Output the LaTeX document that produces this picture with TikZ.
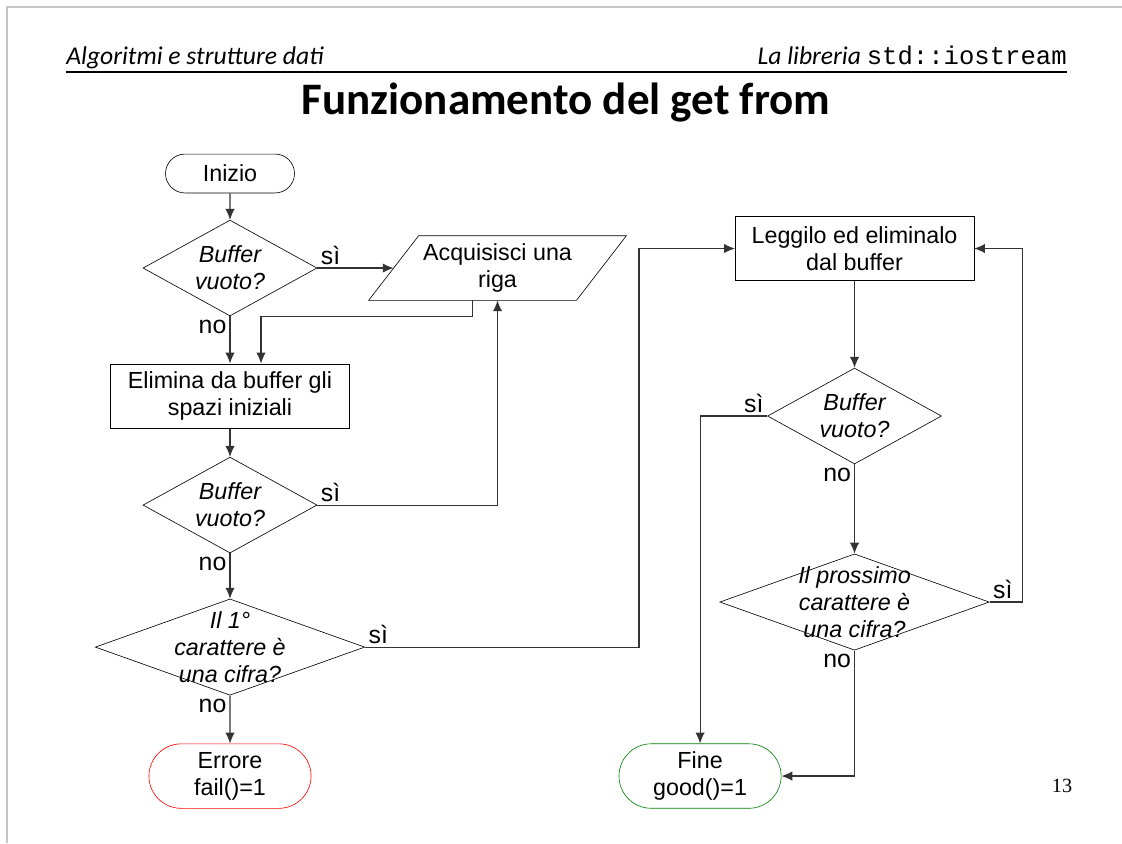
\documentclass[tikz,border=0pt]{standalone}
\usepackage{fontspec}
\setmainfont{Liberation Sans}
\newfontfamily\slidefont{Carlito}
\newfontfamily\codefont{Liberation Mono}
\newfontfamily\pagefont{Liberation Serif}
\usetikzlibrary{positioning, shapes.geometric, shapes.misc, arrows.meta}

\begin{document}
\begin{tikzpicture}[
    every node/.style={align=center, font=\fontsize{15}{17.3}\selectfont},
    terminal/.style={rounded rectangle, draw=black, minimum width=3.67cm, minimum height=1.46cm, inner sep=0pt},
    block/.style={rectangle, draw=black, minimum width=5.4cm, minimum height=1.46cm, inner sep=0pt},
    io/.style={rectangle, minimum width=4.69cm, minimum height=1.45cm, inner sep=0pt},
    decision/.style={diamond, draw=black, minimum width=3.94cm, minimum height=2.17cm, inner sep=0pt},
    wide/.style={decision, minimum width=6.1cm, minimum height=2.18cm},
    qtext/.style={font=\fontsize{15}{17.3}\selectfont\itshape},
    yeslab/.style={anchor=south west, inner sep=2pt, font=\fontsize{16}{19}\selectfont},
    nolab/.style={anchor=north east, inner sep=2pt, font=\fontsize{16}{19}\selectfont},
    header/.style={font=\slidefont\itshape\fontsize{16.5}{19}\selectfont, inner sep=0pt},
    arrow/.style={->, >={Latex[length=7pt,width=6pt]}, draw=black!80, line width=0.7pt}
]
    \useasboundingbox (0,0) rectangle (25.4,-19.085);
    \draw[gray!45, line width=0.9pt] (0.158,-19.085) -- (0.158,-0.158) -- (25.4,-0.158);

    % Header and title
    \node[header, anchor=base west] (course) at (1.494,-1.471) {Algoritmi e strutture dati};
    \node[header, anchor=base east] (topic) at (24.155,-1.471) {La libreria {\upshape\codefont std::iostream}};
    \draw[line width=0.8pt] (1.494,-1.63) -- (24.155,-1.63);
    \node[font=\slidefont\bfseries\fontsize{29}{33}\selectfont, anchor=base] (title) at (12.813,-2.60) {Funzionamento del get from};

    % Nodes - left column
    \node[terminal, minimum width=2.92cm, minimum height=0.88cm] (start) at (5.207,-3.928) {Inizio};
    \node[decision, node distance=2.14cm, below of=start, label={[qtext]center:Buffer\\vuoto?}] (empty1) {};
    \node[io, node distance=6.056cm, right of=empty1] (getline) {Acquisisci una\\riga};
    \draw ([xshift=-0.566cm]getline.south west) -- ([xshift=0.566cm]getline.north west)
        -- ([xshift=0.566cm]getline.north east) -- ([xshift=-0.566cm]getline.south east) -- cycle;
    \node[block, node distance=2.898cm, below of=empty1] (skipws) {Elimina da buffer gli\\spazi iniziali};
    \node[decision, node distance=2.468cm, below of=skipws, label={[qtext]center:Buffer\\vuoto?}] (empty2) {};
    \node[wide, node distance=3.215cm, below of=empty2, label={[qtext]center:Il 1°\\carattere è\\una cifra?}] (digit1) {};
    \node[terminal, draw=red, node distance=2.92cm, below of=digit1] (fail) {Errore\\fail()=1};

    % Nodes - right column
    \node[block] (read) at (19.345,-5.626) {Leggilo ed eliminalo\\dal buffer};
    \node[decision, node distance=3.792cm, below of=read, label={[qtext]center:Buffer\\vuoto?}] (empty3) {};
    \node[wide, node distance=4.211cm, below of=empty3, label={[qtext]center:Il prossimo\\carattere è\\una cifra?}] (digit2) {};
    \node[terminal, draw=green!50!black] (good) at (15.848,-17.568) {Fine\\good()=1};

    \node[font=\pagefont\fontsize{13}{15}\selectfont] (pagenum) at (24.042,-17.794) {13};

    % Bend points
    \coordinate (getout) at ([xshift=-0.566cm]getline.south);
    \coordinate (skipin) at ([xshift=0.702cm]skipws.north);
    \coordinate (loopL) at ([xshift=-2.173cm]read.west);
    \coordinate (loopR) at ([xshift=1.087cm]read.east);

    % Arrows - left column
    \draw[arrow] (start) -- (empty1);
    \draw[arrow] (empty1.east) -- node[yeslab, at start] {sì} (getline);
    \draw[arrow] (empty1.south) -- node[nolab, at start] {no} (skipws);
    \draw[arrow] (getout) -- ++(0,-0.362) -| (skipin);
    \draw[arrow] (skipws) -- (empty2);
    \draw[arrow] (empty2.east) -| node[yeslab, at start] {sì} (getline);
    \draw[arrow] (empty2.south) -- node[nolab, at start] {no} (digit1);
    \draw[arrow] (digit1.east) -| node[yeslab, at start] {sì} (loopL) -- (read.west);
    \draw[arrow] (digit1.south) -- node[nolab, at start] {no} (fail);

    % Arrows - right column
    \draw[arrow] (read) -- (empty3);
    \draw[arrow] (empty3.west) -| node[yeslab, anchor=south east, at start] {sì} (good);
    \draw[arrow] (empty3.south) -- node[nolab, at start] {no} (digit2);
    \draw[arrow] (digit2.east) -| node[yeslab, at start] {sì} (loopR) -- (read.east);
    \draw[arrow] (digit2.south) |- node[nolab, at start] {no} (good);

\end{tikzpicture}
\end{document}
